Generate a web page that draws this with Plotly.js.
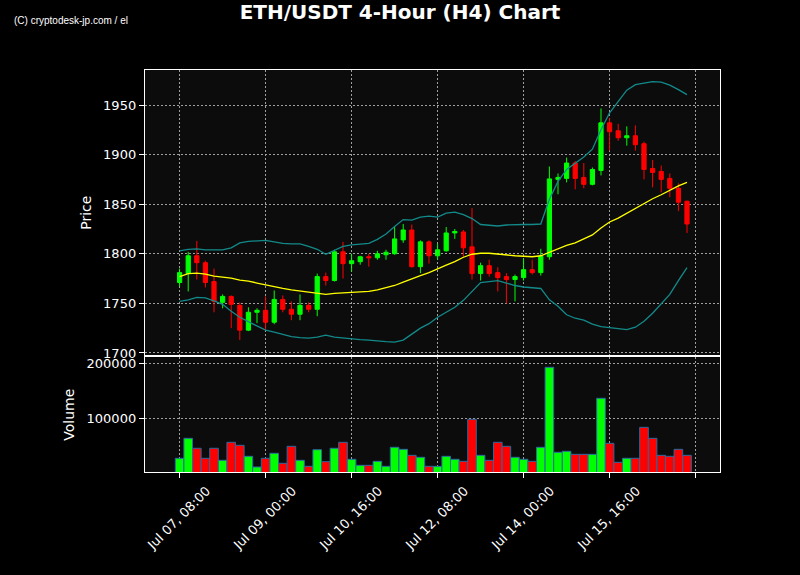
<!DOCTYPE html>
<html>
<head>
<meta charset="utf-8">
<script src="https://cdn.plot.ly/plotly-3.0.1.min.js"></script>
<style>html,body{margin:0;padding:0;background:#000;}#chart{width:800px;height:575px;}</style>
</head>
<body>
<div id="chart"></div>
<script>
const times = [
"2023-07-07 08:00","2023-07-07 12:00","2023-07-07 16:00","2023-07-07 20:00","2023-07-08 00:00","2023-07-08 04:00",
"2023-07-08 08:00","2023-07-08 12:00","2023-07-08 16:00","2023-07-08 20:00","2023-07-09 00:00","2023-07-09 04:00",
"2023-07-09 08:00","2023-07-09 12:00","2023-07-09 16:00","2023-07-09 20:00","2023-07-10 00:00","2023-07-10 04:00",
"2023-07-10 08:00","2023-07-10 12:00","2023-07-10 16:00","2023-07-10 20:00","2023-07-11 00:00","2023-07-11 04:00",
"2023-07-11 08:00","2023-07-11 12:00","2023-07-11 16:00","2023-07-11 20:00","2023-07-12 00:00","2023-07-12 04:00",
"2023-07-12 08:00","2023-07-12 12:00","2023-07-12 16:00","2023-07-12 20:00","2023-07-13 00:00","2023-07-13 04:00",
"2023-07-13 08:00","2023-07-13 12:00","2023-07-13 16:00","2023-07-13 20:00","2023-07-14 00:00","2023-07-14 04:00",
"2023-07-14 08:00","2023-07-14 12:00","2023-07-14 16:00","2023-07-14 20:00","2023-07-15 00:00","2023-07-15 04:00",
"2023-07-15 08:00","2023-07-15 12:00","2023-07-15 16:00","2023-07-15 20:00","2023-07-16 00:00","2023-07-16 04:00",
"2023-07-16 08:00","2023-07-16 12:00","2023-07-16 16:00","2023-07-16 20:00","2023-07-17 00:00","2023-07-17 04:00"];

const openP  = [1771,1780,1798,1791,1772,1751,1757,1748,1723,1741,1743,1731,1754,1744,1739,1748,1744,1777,1773,1802,
                1790,1792,1797,1796,1799,1800,1814,1824,1787,1812,1798,1803,1821,1822,1807,1780,1788,1781,1777,1774,
                1776,1784,1781,1797,1875,1876,1891.5,1877,1870,1884,1932,1924,1917,1919,1911,1886,1883,1876,1866,1853];
const highP  = [1785,1802,1813,1793,1785,1759,1758,1751,1746,1745,1757,1763,1758,1752,1759,1751,1780,1781,1804,1812,
                1800,1798,1800,1803,1804,1828,1830,1829.5,1813.5,1813.5,1810,1827,1825,1824,1846,1791,1794,1786.5,1780.5,1779,
                1795,1794,1805,1888,1881,1897,1893.5,1891.5,1887,1946.5,1937,1931,1928.5,1929.5,1913,1894.5,1889,1881,1871,1853.5];
const lowP   = [1767,1762,1774,1766,1741,1745,1725,1713,1722,1730,1723,1729,1741,1733,1733,1741,1737,1768,1772,1775,
                1782,1789,1787,1794,1794,1799,1811,1786,1780.5,1790,1794,1802,1815,1797,1774,1773,1777,1762,1750,1752,
                1773,1779,1778,1794,1860,1872,1865,1866,1869,1879,1904,1914,1909,1904,1875,1867,1862,1857,1843,1821];
const closeP = [1781,1798,1791,1771,1752,1757,1749,1723,1741,1743,1731,1754,1744,1739,1748,1744,1777,1773,1802,1790,
                1793,1797,1796,1800,1801.5,1815,1824,1787,1812,1798,1804,1821,1822.5,1806,1780,1788,1780,1776,1774,1777,
                1784,1781,1797.5,1875.5,1877,1891.5,1876,1870,1885,1932,1923,1917,1919,1910,1885,1882,1875,1866,1852,1830];
const volume = [27300,63600,45500,27300,45500,23600,56400,50900,30900,11500,27300,36400,18200,49100,23600,12700,42900,21100,45500,56400,
                25500,14500,14500,21800,12700,47300,43600,32700,29100,12700,12700,30900,25500,21800,98200,32700,23600,56400,49100,29100,
                25500,21800,47300,192700,38200,40000,34500,34500,34500,136400,54500,20000,27300,27300,83600,63600,32700,30900,43600,32700];
const bbMiddle = [1777,1780,1780.5,1779.5,1777.5,1776.5,1775.5,1773.5,1772.5,1770.5,1768.5,1766.5,1765,1763.5,1762.5,1761,1760,1759,1760,1760.5,
                  1761,1761.5,1762,1763.5,1765.5,1768,1771.5,1775,1778,1781,1785,1788.5,1792,1796.5,1799.5,1800.5,1800.5,1799.5,1798.5,1798,
                  1797.5,1797,1798,1801.5,1805,1808.5,1811,1815,1819,1826,1832,1836,1841,1846,1851,1855.5,1859.5,1864,1868.5,1872];
const bbUpper = [1803,1804.5,1805,1804,1804,1804,1806,1811,1812.5,1813,1813.5,1812,1810.5,1810,1810,1807.5,1804.5,1799.5,1803.5,1807.5,
                 1809,1809.5,1810.5,1814.5,1820,1827.5,1834.5,1834,1837,1838,1837,1841,1842,1839.5,1835.5,1829.5,1829,1828,1829,1829.5,
                 1829.5,1829.5,1830,1855,1873,1885,1891.5,1897.5,1905.5,1925,1942,1954,1965,1970.5,1972,1973.5,1973,1970,1965.5,1960.5];
const bbLower = [1752,1753.5,1756,1755.5,1752.5,1749,1742,1736,1731.5,1727,1723,1721,1719,1716.5,1715.5,1715,1716,1718,1716,1715,
                 1714,1713.5,1713,1712,1711.5,1711,1713,1719,1725,1729.5,1736,1741,1746,1753,1762,1771,1772,1773,1770.5,1768,
                 1766.5,1765.5,1765,1753.5,1747,1738.5,1735,1733,1729,1726.5,1725.5,1724.5,1723.5,1726,1732,1740,1749,1759,1773,1786];

const tickVals = ["2023-07-07 08:00","2023-07-09 00:00","2023-07-10 16:00","2023-07-12 08:00","2023-07-14 00:00","2023-07-15 16:00","2023-07-17 08:00"];
const tickText = ["Jul 07, 08:00","Jul 09, 00:00","Jul 10, 16:00","Jul 12, 08:00","Jul 14, 00:00","Jul 15, 16:00",""];

const UP = '#00ff00', DOWN = '#ff0000';
const volColors = closeP.map((c, i) => c >= openP[i] ? UP : DOWN);
const FONT = 'DejaVu Sans, sans-serif';

const traces = [
  {type:'scatter', mode:'lines', x:times, y:bbUpper, xaxis:'x', yaxis:'y',
   line:{color:'#138a8a', width:1.3}, hoverinfo:'skip'},
  {type:'scatter', mode:'lines', x:times, y:bbLower, xaxis:'x', yaxis:'y',
   line:{color:'#138a8a', width:1.3}, hoverinfo:'skip'},
  {type:'scatter', mode:'lines', x:times, y:bbMiddle, xaxis:'x', yaxis:'y',
   line:{color:'#ffff00', width:1.3}, hoverinfo:'skip'},
  {type:'candlestick', x:times, open:openP, high:highP, low:lowP, close:closeP, xaxis:'x', yaxis:'y',
   increasing:{line:{color:UP, width:1}, fillcolor:UP},
   decreasing:{line:{color:DOWN, width:1}, fillcolor:DOWN}},
  {type:'bar', x:times, y:volume, xaxis:'x2', yaxis:'y2',
   marker:{color:volColors, line:{color:'#2a6aa0', width:1}}}
];

const gridCommon = {gridcolor:'#a0a0a0', griddash:'1.5px,2.5px', gridwidth:1,
  showline:true, linecolor:'#ffffff', linewidth:1.2, mirror:true, zeroline:false,
  tickfont:{color:'#ffffff', size:13, family:FONT}};

const layout = {
  width:800, height:575,
  paper_bgcolor:'#000000', plot_bgcolor:'#0c0c0c',
  margin:{l:145, r:80, t:70, b:103},
  showlegend:false,
  bargap:0,
  font:{family:FONT, color:'#ffffff'},
  title:{text:'<b>ETH/USDT 4-Hour (H4) Chart</b>', x:0.5, xanchor:'center', y:0.992, yanchor:'top',
         font:{family:FONT, size:20, color:'#ffffff'}},
  xaxis: Object.assign({}, gridCommon, {domain:[0,1], anchor:'y', matches:'x2', type:'date',
         range:['2023-07-06 15:54','2023-07-17 19:21'], rangeslider:{visible:false},
         tickmode:'array', tickvals:tickVals, ticktext:tickText, showticklabels:false, ticks:''}),
  yaxis: Object.assign({}, gridCommon, {domain:[0.29,1], anchor:'x', range:[1697.5,1985.3],
         tickvals:[1700,1750,1800,1850,1900,1950], ticks:'outside', ticklen:5, tickcolor:'#ffffff',
         title:{text:'Price', font:{size:14, color:'#ffffff', family:FONT}, standoff:8}}),
  xaxis2: Object.assign({}, gridCommon, {domain:[0,1], anchor:'y2', type:'date',
         range:['2023-07-06 15:54','2023-07-17 19:21'],
         tickmode:'array', tickvals:tickVals, ticktext:tickText, tickangle:-45, ticklabelshift:27,
         ticks:'outside', ticklen:5, tickcolor:'#ffffff'}),
  yaxis2: Object.assign({}, gridCommon, {domain:[0,0.285], anchor:'x2', range:[2400,210700],
         tickvals:[100000,200000], ticktext:['100000','200000'], ticks:'outside', ticklen:5, tickcolor:'#ffffff',
         title:{text:'Volume', font:{size:14, color:'#ffffff', family:FONT}, standoff:8}}),
  annotations:[{text:'(C) cryptodesk-jp.com / el', xref:'paper', yref:'paper', x:-0.231, y:1.122,
    xanchor:'left', yanchor:'middle', showarrow:false,
    font:{family:'Liberation Sans, Arial, sans-serif', size:10, color:'#ffffff'}}]
};

Plotly.newPlot('chart', traces, layout, {displayModeBar:false, staticPlot:true});
</script>
</body>
</html>
